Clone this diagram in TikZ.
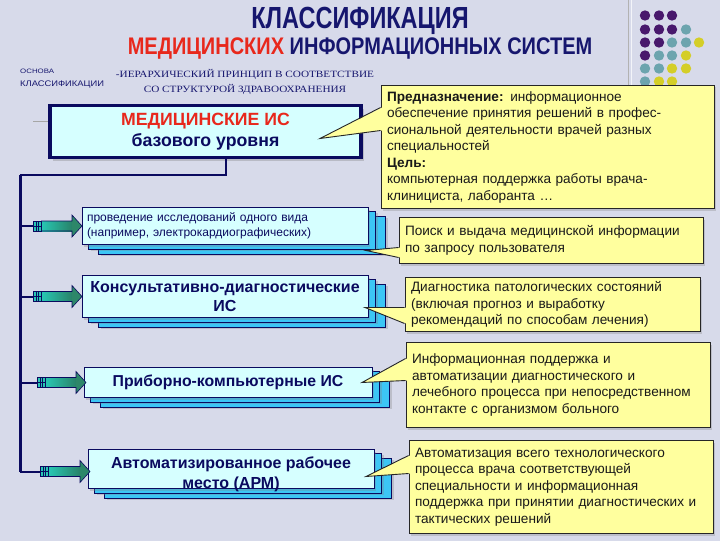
\documentclass[tikz,border=0pt]{standalone}
\usepackage{fontspec}
\setmainfont{Liberation Sans}
\newfontfamily\serifru{Liberation Serif}
\usetikzlibrary{shadows}
\pgfdeclarelayer{back}
\pgfdeclarelayer{mid}
\pgfsetlayers{back,mid,main}
\definecolor{bgc}{RGB}{215,218,234}
\definecolor{navy}{RGB}{22,22,110}
\definecolor{boxnavy}{RGB}{10,10,95}
\definecolor{titred}{RGB}{232,40,28}
\definecolor{cyanf}{RGB}{214,255,255}
\definecolor{layerb}{RGB}{60,198,245}
\definecolor{callf}{RGB}{255,255,158}
\definecolor{dotp}{RGB}{72,24,108}
\definecolor{dott}{RGB}{108,164,174}
\definecolor{doty}{RGB}{212,206,40}
\definecolor{arrL}{RGB}{40,200,180}
\definecolor{arrR}{RGB}{40,130,105}
\definecolor{arrH}{RGB}{45,135,105}
\tikzset{
  basebox/.style={draw=boxnavy, line width=3.5pt, fill=cyanf, minimum width=311pt, minimum height=52pt, inner sep=0pt,
    drop shadow={shadow xshift=3pt, shadow yshift=-3pt, opacity=0.35}},
  isbox/.style={draw=boxnavy, line width=1pt, fill=cyanf, inner sep=0pt, align=center, text=boxnavy,
    drop shadow={shadow xshift=2pt, shadow yshift=-2pt, opacity=0.3}},
  layerbox/.style={draw=boxnavy, line width=0.8pt, fill=layerb,
    drop shadow={shadow xshift=2pt, shadow yshift=-2pt, opacity=0.3}},
  callout/.style={draw=black!85, line width=0.9pt, fill=callf, inner xsep=6pt, inner ysep=0pt, align=left, text=black!90,
    font=\fontsize{13.6}{16.5}\selectfont, drop shadow={shadow xshift=2pt, shadow yshift=-2pt, opacity=0.3}},
  link/.style={draw=boxnavy, line width=2pt},
  spine/.style={draw=boxnavy, line width=3pt},
}
\newcommand\feather[3]{% y, tick start x, tip x
  \pgfmathsetmacro\xa{#2+8}\pgfmathsetmacro\xb{#3-10}
  \shade[left color=arrL, right color=arrR] (\xa,#1-5) -- (\xb,#1-5) -- (\xb,#1+5) -- (\xa,#1+5) -- cycle;
  \fill[arrH] (\xb,#1-11) -- (#3,#1) -- (\xb,#1+11) -- cycle;
  \draw[boxnavy, line width=0.6pt] (\xa,#1-5) -- (\xb,#1-5) -- (\xb,#1-11) -- (#3,#1) -- (\xb,#1+11) -- (\xb,#1+5) -- (\xa,#1+5);
  \fill[arrL] (#2,#1-5) rectangle (\xa,#1+5);
  \draw[boxnavy, line width=0.8pt] (#2,#1-5) rectangle (\xa,#1+5);
  \draw[boxnavy, line width=0.8pt] (#2+3,#1-5) -- (#2+3,#1+5) (#2+5.5,#1-5) -- (#2+5.5,#1+5) (#2,#1) -- (\xa,#1);
}
\newcommand\pointer[4]{% callout node, base y1, base y2, tip coordinate
  \fill[callf] ([xshift=1.5pt]#1.west |- 0,#2) -- (#4) -- ([xshift=1.5pt]#1.west |- 0,#3) -- cycle;
  \draw[black!85, line width=0.9pt] (#1.west |- 0,#2) -- (#4) -- (#1.west |- 0,#3);
}
\begin{document}
\begin{tikzpicture}[x=1pt, y=-1pt]
\begin{pgfonlayer}{back}
\fill[bgc] (0,0) rectangle (720,540);
\draw[black!30, line width=0.8pt] (628,0) -- (628,90);
\draw[white!70!bgc, line width=1pt] (631,0) -- (631,90);
\end{pgfonlayer}
\useasboundingbox (0,0) rectangle (720,540);

% dots
\foreach \x/\y/\c in {645/15/dotp,659/15/dotp,672/15/dotp,
  645/29/dotp,659/29/dotp,672/29/dotp,686/29/dott,
  645/42/dotp,659/42/dotp,672/42/dott,686/42/dott,699/42/doty,
  645/55/dotp,659/55/dott,672/55/dott,686/55/doty,
  645/68/dott,659/68/dott,672/68/doty,686/68/doty,
  645/81/dott,659/81/doty,672/81/doty}
  \fill[\c] (\x,\y) circle (5.2);

% titles
\node[text=navy, font=\bfseries\fontsize{23.5}{23.5}\selectfont] (t1) at (360,20) {\scalebox{1}[1.3]{КЛАССИФИКАЦИЯ}};
\node[font=\bfseries\fontsize{20}{20}\selectfont] (t2) at (360,48) {\scalebox{1}[1.2]{\textcolor{titred}{МЕДИЦИНСКИХ} \textcolor{navy}{ИНФОРМАЦИОННЫХ СИСТЕМ}}};
\node[text=navy, anchor=west, font=\fontsize{7.5}{7.5}\selectfont, inner sep=0pt] (o1) at (20,71) {\scalebox{1.05}[0.85]{ОСНОВА}};
\node[text=navy, anchor=west, font=\fontsize{9}{9}\selectfont, inner sep=0pt] (o2) at (20,84) {\scalebox{1.04}[0.9]{КЛАССИФИКАЦИИ}};
\node[text=navy, font=\serifru\fontsize{9.6}{15}\selectfont, inner sep=0pt] (h1) at (245,74)
  {\scalebox{1.17}[1]{-ИЕРАРХИЧЕСКИЙ ПРИНЦИП В СООТВЕТСТВИЕ}};
\node[text=navy, font=\serifru\fontsize{9.6}{15}\selectfont, inner sep=0pt] (h2) at (245,89)
  {\scalebox{1.17}[1]{СО СТРУКТУРОЙ ЗДРАВООХРАНЕНИЯ}};

% base box
\draw[black!35, line width=1pt] (33,121) -- (48,121);
\node[basebox, align=center, font=\bfseries\fontsize{17.7}{21.5}\selectfont] (b0) at (205.5,131)
  {\textcolor{titred}{МЕДИЦИНСКИЕ ИС}\\[0pt]\textcolor{boxnavy}{базового уровня}};

% left boxes
\node[isbox, minimum width=286pt, minimum height=37pt, text width=276pt, align=left, font=\fontsize{12}{15}\selectfont] (b1) at (225,225.5)
  {проведение исследований одного вида\\(например, электрокардиографических)};
\node[isbox, minimum width=286pt, minimum height=42pt, font=\bfseries\fontsize{16}{18.5}\selectfont] (b2) at (225,296)
  {Консультативно-диагностические\\ИС};
\node[isbox, minimum width=288pt, minimum height=30pt, font=\bfseries\fontsize{15.8}{18}\selectfont] (b3) at (228,382)
  {Приборно-компьютерные ИС};
\node[isbox, minimum width=286pt, minimum height=39pt] (b4) at (231,468.5) {};
\node[text=boxnavy, align=center, font=\bfseries\fontsize{16}{20}\selectfont, inner sep=0pt] (b4t) at (231,474)
  {Автоматизированное рабочее\\место (АРМ)};

\begin{pgfonlayer}{mid}
\foreach \b in {b1,b2,b3,b4}{
  \draw[layerbox] ([shift={(17,9)}]\b.north west) rectangle ([shift={(17,9)}]\b.south east);
  \draw[layerbox] ([shift={(7,4)}]\b.north west) rectangle ([shift={(7,4)}]\b.south east);
}
\end{pgfonlayer}

% connectors
\coordinate (c1) at (226,174);
\coordinate (c2) at (20,174);
\coordinate (c3) at (20,471);
\draw[link] (b0.south -| c1) -- (c1) -- (c2);
\draw[spine] (c2) -- (c3);
\draw[link] (c2 |- b1.west) -- ++(13,0);
\draw[link] (c2 |- b2.west) -- ++(13,0);
\draw[link] (c2 |- b3.west) -- ++(17,0);
\draw[link] (c3) -- ++(20,0);
\feather{225.5}{33}{82}
\feather{296}{33}{82}
\feather{382}{37}{86}
\feather{471}{40}{90}

% callouts
\node[callout, minimum width=333pt, minimum height=123pt, text width=321pt] (n0) at (547.5,146.5)
  {\textbf{Предназначение:} информационное\\обеспечение принятия решений в профес-\\сиональной деятельности врачей разных\\специальностей\\\textbf{Цель:}\\компьютерная поддержка работы врача-\\клинициста, лаборанта \dots};
\node[callout, minimum width=304pt, minimum height=46pt, text width=292pt] (n1) at (551,240)
  {Поиск и выдача медицинской информации\\по запросу пользователя};
\node[callout, minimum width=295pt, minimum height=54pt, text width=283pt] (n2) at (552.5,304)
  {Диагностика патологических состояний\\(включая прогноз и выработку\\рекомендаций по способам лечения)};
\node[callout, minimum width=304pt, minimum height=85pt, text width=292pt] (n3) at (558,384.5)
  {Информационная поддержка и\\автоматизации диагностического и\\\mbox{лечебного процесса при непосредственном}\\контакте с организмом больного};
\node[callout, minimum width=304pt, minimum height=93pt, text width=292pt] (n4) at (561,486.5)
  {Автоматизация всего технологического\\процесса врача соответствующей\\специальности и информационная\\\mbox{поддержка при принятии диагностических и}\\тактических решений};

\coordinate (p0) at (320,138);
\coordinate (p1) at (366,250);
\coordinate (p2) at (365,307);
\coordinate (p3) at (362,382);
\coordinate (p4) at (366,476);
\pointer{n0}{107}{130}{p0}
\pointer{n1}{247}{257}{p1}
\pointer{n2}{307}{323}{p2}
\pointer{n3}{358}{380}{p3}
\pointer{n4}{455}{473}{p4}
\end{tikzpicture}
\end{document}
